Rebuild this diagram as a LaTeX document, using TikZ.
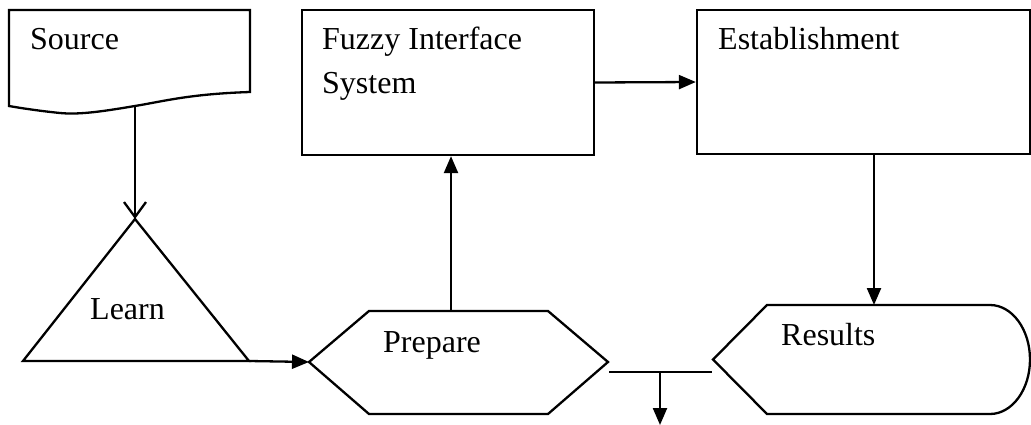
\documentclass[tikz,border=0pt]{standalone}
\usepackage{fontspec}
\setmainfont{Liberation Serif}
\usetikzlibrary{arrows.meta}

\tikzset{
  outline/.style={line width=2.3pt, line join=miter},
  flow/.style={line width=2.3pt, -{Triangle[length=17pt,width=14pt]}},
  openflow/.style={line width=2.3pt, -{Straight Barb[length=15pt,width=22pt,line width=2.3pt]}},
  txt/.style={anchor=base west, inner sep=0pt, font=\fontsize{32}{44}\selectfont},
}

\begin{document}
\begin{tikzpicture}[x=1pt,y=-1pt]
  \useasboundingbox (0,0) rectangle (1031,425);

  % source (document shape)
  \draw[outline] (9,10) -- (250,10) -- (250,92)
    .. controls (190,94) and (165,101) .. (135,106)
    .. controls (105,111) and (80,115) .. (60,113)
    .. controls (40,111) and (20,108) .. (9,106) -- cycle;
  \coordinate (srcout) at (135,106);
  \node[name=src, txt] at (30,50) {Source};

  % learn (triangle)
  \coordinate (lrntop) at (135,219);
  \coordinate (lrnleft) at (23,361);
  \coordinate (lrnright) at (249,361);
  \draw[outline] (lrntop) -- (lrnright) -- (lrnleft) -- cycle;
  \node[name=lrn, txt] at (90,319) {Learn};

  % prepare (hexagon)
  \coordinate (prepw) at (309,362);
  \coordinate (prepe) at (608,362);
  \coordinate (prepn) at (451,311);
  \draw[outline] (prepw) -- (369,311) -- (548,311) -- (prepe)
    -- (548,414) -- (369,414) -- cycle;
  \node[name=prep, txt] at (383,352) {Prepare};

  % fuzzy interface system
  \node[name=fis, draw, outline, minimum width=292pt, minimum height=145pt, inner sep=0pt] at (448,82.5) {};
  \node[name=fistxt, txt, align=left] at (322,94) {Fuzzy Interface\\System};

  % establishment
  \node[name=est, draw, outline, minimum width=333pt, minimum height=144pt, inner sep=0pt] at (863.5,82) {};
  \node[name=esttxt, txt] at (718,50) {Establishment};

  % results (display shape)
  \coordinate (resw) at (713,359.5);
  \coordinate (resn) at (874,305);
  \draw[outline] (resw) -- (767,305) -- (990,305)
    arc[start angle=-90, end angle=90, x radius=40, y radius=54.5]
    -- (767,414) -- cycle;
  \node[name=res, txt] at (781,345) {Results};

  % joint below
  \coordinate (jw) at (609,372);
  \coordinate (je) at (712,372);
  \coordinate (jmid) at (660,372);
  \coordinate (out) at (660,425);

  \draw[openflow] (srcout) -- (lrntop);
  \draw[flow] (lrnright) -- (prepw);
  \draw[flow] (prepn) -- (prepn |- fis.south);
  \draw[flow] (fis.east) -- (est.west);
  \draw[flow] (resn |- est.south) -- (resn);
  \draw[line width=2.3pt] (jw) -- (je);
  \draw[flow] (jmid) -- (out);
\end{tikzpicture}
\end{document}
